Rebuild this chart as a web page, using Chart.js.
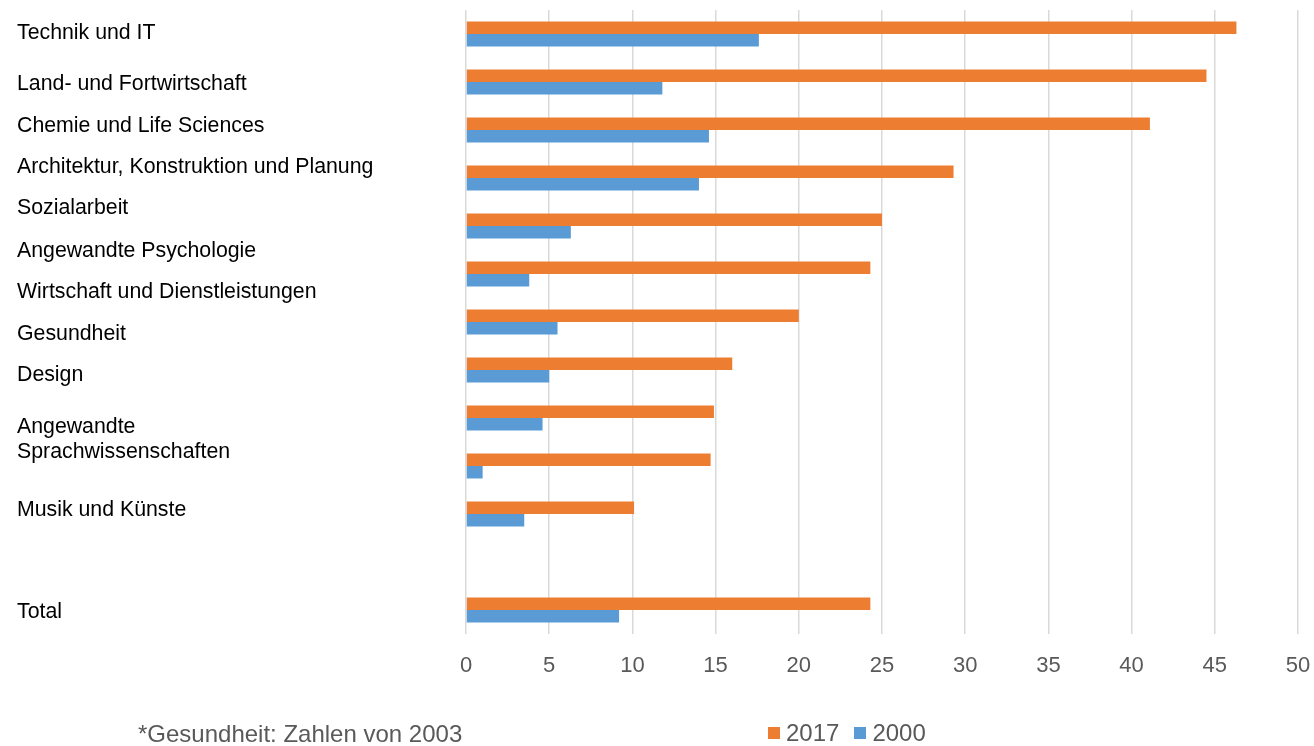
<!DOCTYPE html>
<html lang="de">
<head>
<meta charset="utf-8">
<title>Anteil Frauen nach Fachbereich</title>
<script src="https://cdn.jsdelivr.net/npm/chart.js@4/dist/chart.umd.min.js"></script>
<style>
  html, body { margin: 0; padding: 0; background: #fff; }
  #wrap { position: relative; width: 1314px; height: 746px; overflow: hidden;
          font-family: 'Liberation Sans', Arial, sans-serif; }
  #my-chart { position: absolute; left: 0; top: 0; }
  .cat-label { position: absolute; left: 17px; font-size: 21.3px; line-height: 25px;
               color: #000; white-space: nowrap; }
  #footnote { position: absolute; left: 138px; top: 720px; font-size: 24px; line-height: 28px;
              color: #595959; white-space: nowrap; }
  #legend { position: absolute; left: 768px; top: 719px; display: flex; align-items: center;
            font-size: 24px; line-height: 28px; color: #595959; }
  .leg-item { display: flex; align-items: center; margin-right: 15px; }
  .leg-box { width: 12px; height: 12px; margin-right: 6px; }
</style>
</head>
<body>
<div id="wrap">
  <canvas id="my-chart" width="1314" height="746"></canvas>
  <div id="labels"></div>
  <div id="footnote"></div>
  <div id="legend"></div>
</div>
<script>
'use strict';

// ******* DATA *******
let categories = [
  'Technik und IT',
  'Land- und Fortwirtschaft',
  'Chemie und Life Sciences',
  'Architektur, Konstruktion und Planung',
  'Sozialarbeit',
  'Angewandte Psychologie',
  'Wirtschaft und Dienstleistungen',
  'Gesundheit',
  'Design',
  ['Angewandte', 'Sprachwissenschaften'],
  'Musik und Künste',
  '',
  'Total'
];
let seriesNames = ['2017', '2000'];
let values2017 = [46.3, 44.5, 41.1, 29.3, 25.0, 24.3, 20.0, 16.0, 14.9, 14.7, 10.1, null, 24.3];
let values2000 = [17.6, 11.8, 14.6, 14.0, 6.3, 3.8, 5.5, 5.0, 4.6, 1.0, 3.5, null, 9.2];
let axisMin = 0;
let axisMax = 50;
let axisStep = 5;
let footnoteText = '*Gesundheit: Zahlen von 2003';

// ******* LAYOUT / STYLE *******
let seriesColors = ['#ED7D31', '#5B9BD5'];
// the category labels sit in their own text box, not on the bars
let labelCenters = [32, 83, 125, 166, 207, 250, 291, 333, 374, 426, 509, null, 611];

// ******* DOM REFERENCES *******
let labelBox = document.getElementById('labels');
let footnoteElem = document.getElementById('footnote');
let legendElem = document.getElementById('legend');
let canvasElem = document.getElementById('my-chart').getContext('2d');

// ******* HELPERS *******
function renderLabels() {
  for (let i = 0; i < categories.length; i++) {
    if (labelCenters[i] === null || categories[i] === '') continue;
    let div = document.createElement('div');
    div.className = 'cat-label';
    let lines = Array.isArray(categories[i]) ? categories[i] : [categories[i]];
    div.innerHTML = lines.join('<br>');
    div.style.top = (labelCenters[i] - 12.5) + 'px';
    labelBox.appendChild(div);
  }
}

function renderLegend() {
  for (let i = 0; i < seriesNames.length; i++) {
    let item = document.createElement('div');
    item.className = 'leg-item';
    let box = document.createElement('span');
    box.className = 'leg-box';
    box.style.background = seriesColors[i];
    let txt = document.createElement('span');
    txt.textContent = seriesNames[i];
    item.appendChild(box);
    item.appendChild(txt);
    legendElem.appendChild(item);
  }
}

// ******* CHART *******
function renderChart() {
  let chartObj = {
    type: 'bar',
    data: {
      labels: categories,
      datasets: [{
        label: seriesNames[0],
        data: values2017,
        backgroundColor: seriesColors[0],
        borderWidth: 0
      },
      {
        label: seriesNames[1],
        data: values2000,
        backgroundColor: seriesColors[1],
        borderWidth: 0
      }]
    },
    options: {
      indexAxis: 'y',
      responsive: false,
      animation: false,
      categoryPercentage: 0.52,
      barPercentage: 1,
      layout: {
        padding: { left: 466, right: 16, top: 10, bottom: 0 }
      },
      plugins: {
        legend: { display: false },
        tooltip: { enabled: false }
      },
      scales: {
        y: {
          display: false
        },
        x: {
          min: axisMin,
          max: axisMax,
          afterFit: function (scale) {
            scale.height = 112;
            // keep the plot width fixed, the end labels fit in the padding
            scale.paddingLeft = 0;
            scale.paddingRight = 0;
          },
          border: { display: false },
          grid: {
            color: '#d9d9d9',
            lineWidth: 1.5,
            drawTicks: false
          },
          ticks: {
            stepSize: axisStep,
            padding: 19,
            color: '#595959',
            font: { family: "'Liberation Sans', Arial, sans-serif", size: 22 }
          }
        }
      }
    }
  };

  new Chart(canvasElem, chartObj);
}

// ******* EXECUTABLE CODE *******
footnoteElem.textContent = footnoteText;
renderLabels();
renderLegend();
renderChart();
</script>
</body>
</html>
